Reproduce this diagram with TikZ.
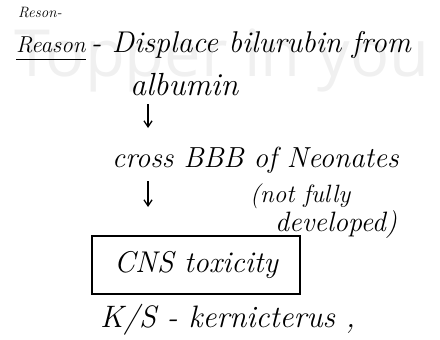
\documentclass[tikz,border=0pt]{standalone}
\usepackage{fontspec}
\newfontfamily\markfont{Open Sans}
\usetikzlibrary{arrows.meta,calc}
\newcommand{\fs}[1]{\fontsize{#1}{#1}\selectfont\itshape}
\begin{document}
\begin{tikzpicture}[x=1pt,y=-1pt,
  note/.style={anchor=west,inner sep=0pt},
  flow/.style={-{Straight Barb[length=6pt,width=8pt]},line width=1.3pt},
  boxed/.style={draw,line width=1.5pt,minimum width=208pt,minimum height=58pt,
    font=\fs{30}}]
\useasboundingbox (0,0) rectangle (440,340);
% faint watermark behind the notes
\node[text=black!6,font=\fontsize{65}{70}\selectfont\markfont] (wm) at (222,60) {Topper in you};
% heading
\node[note,font=\fs{15}] (old) at (18,13) {Reson-};
\node[note,font=\fs{23}] (reason) at (16,45) {Reason};
\draw[line width=1.4pt] ($(reason.south west)+(0,6)$) coordinate (u1) -- ($(reason.south east)+(0,6)$) coordinate (u2);
\node[note,font=\fs{30}] (displace) at (reason.east) {\,- Displace bilurubin from};
\node[note,font=\fs{32}] (alb) at (130,85) {albumin};
% chain
\node[note,font=\fs{29}] (cross) at (112,160) {cross BBB of Neonates};
\node[note,font=\fs{25}] (nf) at (250,196) {(not fully};
\node[note,font=\fs{28}] (dev) at (275,225) {developed)};
\node[boxed] (cns) at (196,265) {CNS toxicity};
\node[note,font=\fs{31}] (ks) at (100,320) {K/S - kernicterus ,};
\coordinate (a1) at (148,104);
\coordinate (a2) at (148,128);
\coordinate (b1) at (148,181);
\coordinate (b2) at (148,207);
\draw[flow] (a1) -- (a2);
\draw[flow] (b1) -- (b2);
\end{tikzpicture}
\end{document}
